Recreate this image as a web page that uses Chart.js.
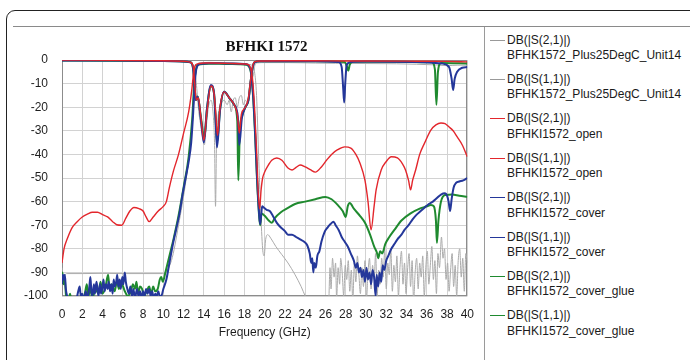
<!DOCTYPE html>
<html>
<head>
<meta charset="utf-8">
<script src="https://cdn.jsdelivr.net/npm/chart.js@4/dist/chart.umd.min.js"></script>
<style>
  html, body { margin: 0; padding: 0; background: #fff; }
  body { width: 690px; height: 360px; position: relative; overflow: hidden; font-family: "Liberation Sans", Arial, sans-serif; }
  #frame { position: absolute; left: 6px; top: 10px; width: 720px; height: 400px; border: 1.5px solid #222; border-radius: 9px; box-sizing: border-box; }
  #rule { position: absolute; left: 13px; right: 0; top: 26px; height: 1px; background: #8a8a8a; }
  #sep { position: absolute; left: 484px; top: 27px; bottom: 0; width: 1px; background: #9a9a9a; }
  #wrap { position: absolute; left: 0; top: 0; width: 485px; height: 360px; }
  #title { position: absolute; left: 62px; width: 409px; top: 38px; text-align: center; font: bold 15px "Liberation Serif", "Times New Roman", serif; color: #111; }
  .item { position: absolute; left: 490px; font-size: 12px; line-height: 15.5px; color: #1a1a1a; white-space: nowrap; }
  .item .sw { position: absolute; left: 0; top: 7px; width: 15px; }
  .item .tx { position: absolute; left: 17px; top: 0; }
</style>
</head>
<body>
<div id="frame"></div>
<div id="rule"></div>
<div id="sep"></div>
<div id="wrap"><canvas id="c" width="485" height="360"></canvas></div>
<div id="title">BFHKI 1572</div>
<div id="legend"></div>
<script>
// Axis ticks
const freqTicks = [0, 2, 4, 6, 8, 10, 12, 14, 16, 18, 20, 22, 24, 26, 28, 30, 32, 34, 36, 38, 40];
const dbTicks = [0, -10, -20, -30, -40, -50, -60, -70, -80, -90, -100];

// Series: [frequency GHz, dB]
const unit14S21 = [
  [0,-88],[0.15,-95],[0.3,-91],[0.5,-90.5],[2,-90.5],[4,-90.4],[6,-90.5],[8,-90.5],[9.9,-90.5],
  [10.8,-85],[11.5,-70],[12.2,-52],[12.7,-35],[13.0,-18],[13.2,-6],[13.4,-1.6],[13.7,-1.2],
  [14.5,-1.0],[15.5,-1.1],[16.5,-1.2],[17.5,-1.4],[18.3,-1.8],[18.8,-2.5],[19.0,-5],[19.2,-15],
  [19.4,-40],[19.6,-63],[19.8,-80],[19.95,-83],[20.1,-76],[20.3,-74],[20.6,-75.5],[21.1,-79],
  [21.7,-82.5],[22.3,-86],[23.0,-91],[23.6,-96],[24.0,-100],[24.5,-104],[26.3,-104],
  [26.45,-88],[26.55,-97],[26.7,-84],[26.85,-92],[27.0,-86],[27.1,-101],[27.25,-88],[27.4,-95],
  [27.5,-84],[27.65,-90],[27.8,-100],[27.95,-87],[28.1,-93],[28.25,-85],[28.4,-98],[28.55,-89],
  [28.7,-102],[28.85,-86],[29.0,-94],[29.15,-83],[29.3,-91],[29.45,-99],[29.6,-88],[29.75,-96],
  [29.9,-85],[30.05,-101],[30.2,-90],[30.35,-84],[30.5,-97],[30.65,-87],[30.8,-93],[30.95,-82],
  [31.1,-100],[31.25,-89],[31.4,-95],[31.55,-84],[31.7,-92],[31.85,-80],[32.0,-97],[32.15,-86],
  [32.3,-91],[32.45,-80],[32.6,-98],[32.75,-87],[32.9,-94],[33.05,-83],[33.2,-100],[33.35,-88],
  [33.5,-81],[33.65,-95],[33.8,-86],[33.95,-99],[34.1,-89],[34.25,-82],[34.4,-96],[34.55,-85],
  [34.7,-102],[34.85,-90],[35.0,-84],[35.15,-97],[35.3,-86],[35.45,-92],[35.6,-83],[35.75,-100],
  [35.9,-88],[36.05,-81],[36.2,-95],[36.35,-87],[36.5,-79],[36.65,-93],[36.8,-85],[36.95,-99],
  [37.1,-82],[37.25,-88],[37.45,-75],[37.6,-84],[37.75,-80],[37.9,-93],[38.05,-86],[38.2,-98],
  [38.35,-89],[38.5,-82],[38.65,-96],[38.8,-87],[38.95,-100],[39.1,-85],[39.25,-80],[39.4,-92],
  [39.55,-84],[39.7,-98],[39.85,-82],[40,-86]
];
const unit14S11 = [
  [0,-0.3],[5,-0.4],[10,-0.5],[12,-0.8],[12.8,-1.5],[13.1,-4],[13.3,-12],[13.5,-22],[13.8,-30],
  [14.05,-36],[14.2,-30],[14.45,-20],[14.7,-17],[14.9,-22],[15.05,-35],[15.15,-62],[15.25,-35],
  [15.4,-24],[15.7,-19],[16.0,-17],[16.3,-19],[16.5,-17],[16.7,-22],[16.9,-17],[17.1,-16],
  [17.3,-20],[17.5,-16],[17.7,-15],[17.9,-19],[18.1,-17],[18.3,-18],[18.5,-15],[18.7,-10],
  [18.9,-6],[19.05,-2],[19.3,-1.2],[20,-1.1],[22,-1.1],[25,-1.3],[27,-1.4],[30,-1.5],
  [33,-1.6],[35,-1.8],[37,-2.1],[38,-2.4],[39,-2.2],[40,-2.2]
];
const openS21 = [
  [0,-86],[0.2,-80],[0.5,-76],[1,-71],[1.5,-68.5],[2,-66.5],[2.5,-65.3],[3,-64.5],[3.5,-64.5],
  [4,-65.5],[4.5,-66.5],[5,-68.5],[5.4,-69.8],[5.9,-70],[6.3,-67],[6.7,-64],[7.1,-62.5],
  [7.6,-63],[8.0,-64],[8.3,-66.5],[8.6,-68.5],[9.0,-66.5],[9.5,-64],[10,-62],[10.3,-60],
  [10.6,-54],[11,-47],[11.5,-40],[12,-31],[12.5,-22],[12.8,-13],[13.0,-5],[13.2,-2],[13.5,-1.5],
  [14,-1.3],[15,-1.3],[16,-1.4],[17,-1.5],[18,-1.7],[18.4,-2],[18.6,-3.5],[18.8,-8],[19.0,-20],
  [19.2,-38],[19.35,-55],[19.5,-63],[19.65,-55],[19.8,-50],[20.0,-47.5],[20.3,-45],[20.7,-42.5],
  [21.2,-41.5],
  [21.7,-42.5],[22.3,-45.8],[22.7,-46.6],[23.1,-45.5],[23.5,-44.5],[24,-45.3],[24.5,-46.5],
  [25,-47.5],[25.6,-45.3],[26.1,-42.5],[26.6,-40],[27.2,-38],[27.9,-36.8],[28.5,-37.3],
  [29,-40],[29.4,-43.6],[29.9,-51],[30.2,-60],[30.5,-72],[30.8,-62],[31,-55],[31.5,-46.6],
  [32,-43],[32.5,-41],[33.1,-41.5],[33.6,-44],[33.9,-46.6],[34.2,-51],[34.4,-55],[34.6,-51],
  [34.9,-46.6],[35.3,-40],[35.8,-35],[36.4,-29.7],[36.9,-27.5],[37.4,-26.7],[37.8,-27],
  [38.2,-28.4],[38.6,-30],[39,-32.6],[39.5,-36],[40,-41]
];
const openS11 = [
  [0,0],[5,-0.1],[10,-0.3],[12,-0.5],[12.7,-1],[12.95,-3],[13.1,-10],[13.25,-17],[13.45,-16],
  [13.7,-24],[14.0,-34],[14.3,-22],[14.7,-11],[15.0,-14],[15.2,-24],[15.35,-32],[15.6,-20],
  [16,-13.5],[16.5,-16],[17,-19],[17.3,-23],[17.5,-31],[17.7,-23],[18.1,-20],[18.4,-16],
  [18.6,-9],[18.8,-3],[19,-0.8],[19.5,-0.4],[22,-0.3],[25,-0.3],[28,-0.4],[30,-0.4],
  [35,-0.5],[38,-0.6],[40,-0.8]
];
const coverS21 = [
  [0,-95],[0.08,-91],[0.18,-93],[0.28,-91],[0.38,-97],[0.5,-100],[0.65,-103],[0.9,-104],
  [1.2,-103],[1.45,-101],[1.6,-98],[1.75,-96],[1.85,-100],[2.0,-99],[2.15,-102],[2.35,-98],
  [2.5,-101],[2.7,-96],[2.8,-92],[2.9,-98],[3.0,-100],[3.15,-95],[3.25,-99],[3.4,-94],[3.5,-97],
  [3.6,-100],[3.75,-95],[3.85,-99],[4.0,-96],[4.1,-93],[4.2,-98],[4.35,-95],[4.5,-97],[4.6,-94],
  [4.75,-98],[4.85,-95],[5.0,-99],[5.1,-93],[5.2,-96],[5.35,-94],[5.45,-91],[5.55,-96],[5.7,-93],
  [5.8,-97],[5.95,-92],[6.05,-95],[6.2,-90],[6.3,-94],[6.45,-97],[6.6,-99],[6.75,-96],[6.9,-100],
  [7.05,-97],[7.2,-101],[7.4,-97],[7.55,-100],[7.7,-98],[7.85,-101],[8.0,-98],[8.15,-100],
  [8.3,-97],[8.45,-99],[8.6,-97],[8.75,-100],[8.9,-98],[9.05,-101],[9.2,-99],[9.35,-100],
  [9.5,-98],[9.65,-100],[9.8,-100],[10.0,-97],[10.3,-93],[10.6,-86],[10.9,-79],[11.25,-72],
  [11.6,-65],[11.9,-57],[12.2,-50],[12.5,-43],[12.75,-35],[12.95,-22],[13.1,-10],[13.25,-4],
  [13.45,-2],[13.8,-1.6],[14.5,-1.4],[15.5,-1.4],[16.5,-1.5],[17.5,-1.6],[18.2,-1.8],
  [18.45,-2.5],[18.65,-5],[18.85,-14],[19.05,-30],[19.25,-50],[19.45,-65],[19.55,-69.5],
  [19.65,-66],[19.75,-62],[19.9,-62.5],[20.2,-63.5],[20.5,-64],[20.8,-66],[21.2,-69],[21.6,-71],
  [22.0,-72.5],[22.3,-74],[22.7,-74],[23.1,-75],[23.5,-76],[23.9,-77],[24.2,-78.5],[24.45,-82],
  [24.6,-86],[24.7,-84],[24.8,-90],[24.9,-86],[25.05,-88],[25.2,-83],[25.4,-81],[25.6,-77],
  [25.9,-73],[26.2,-71],[26.5,-69.5],[26.8,-68.5],[27.0,-70],[27.3,-72],[27.6,-75],[27.9,-77],
  [28.2,-79],[28.5,-82],[28.8,-85],[29.0,-88],[29.15,-86],[29.3,-90],[29.45,-88],[29.6,-92],
  [29.75,-89],[29.9,-94],[30.05,-88],[30.2,-93],[30.35,-90],[30.5,-95],[30.65,-89],[30.8,-92],
  [30.95,-100],[31.05,-91],[31.2,-96],[31.35,-90],[31.5,-94],[31.65,-87],[31.8,-89],[32.0,-85],
  [32.2,-83],[32.5,-80],[32.8,-78],[33.1,-76],[33.5,-74],[33.8,-72],[34.2,-70],[34.6,-67.5],
  [35.0,-65.5],[35.4,-64],[35.8,-62.5],[36.2,-61],[36.6,-60],[37.0,-58.5],[37.4,-57],
  [37.8,-56.5],[38.0,-57.5],[38.15,-60],[38.3,-64],[38.45,-59],[38.65,-54],[38.9,-52],
  [39.2,-51.5],[39.6,-51],[40,-50]
];
const coverS11 = [
  [0,-0.2],[5,-0.2],[10,-0.4],[12,-0.6],[12.7,-1],[12.95,-4],[13.1,-12],[13.2,-17],[13.4,-15.6],
  [13.7,-25],[14.0,-35],[14.3,-21],[14.7,-10.6],[15.0,-14],[15.2,-29.7],[15.3,-37],[15.6,-21],
  [16,-13.5],[16.5,-16],[17,-19],[17.35,-24],[17.5,-36],[17.75,-24.6],[18.1,-20],[18.4,-17],
  [18.6,-9.7],[18.8,-3.5],[19,-1],[19.5,-0.5],[25,-0.5],[27.3,-0.8],[27.6,-3],[27.75,-12],
  [27.85,-18],[27.95,-10],[28.1,-2],[28.5,-0.8],[30,-0.6],[35,-0.8],[37.5,-1.5],[38.2,-3],
  [38.45,-8],[38.6,-12.7],[38.75,-8],[39,-5],[39.5,-3.3],[40,-3]
];
const glueS21 = [
  [0,-93],[0.05,-90],[0.15,-95],[0.25,-92],[0.4,-100],[0.6,-102],[0.8,-99],[0.95,-103],
  [1.3,-104],[1.7,-101],[2.0,-103],[2.3,-98],[2.45,-95],[2.6,-100],[2.8,-97],[3.0,-101],
  [3.3,-97],[3.6,-99],[3.8,-94],[4.0,-99],[4.3,-96],[4.55,-91],[4.7,-97],[4.9,-95],[5.2,-98],
  [5.45,-93],[5.6,-97],[5.9,-95],[6.2,-98],[6.5,-100],[6.8,-98],[7.0,-95],[7.2,-97],[7.35,-94],
  [7.5,-99],[7.7,-96],[7.9,-97],[8.1,-100],[8.35,-98],[8.6,-96],[8.8,-99],[9.0,-96],[9.2,-98],
  [9.45,-97],[9.65,-93],[9.8,-92],[9.95,-94],[10.2,-90],[10.6,-83],[11.0,-76],[11.5,-66],
  [12.0,-54],[12.5,-41],[12.85,-25],[13.05,-10],[13.25,-3.5],[13.5,-1.9],[14.5,-1.6],
  [15.5,-1.6],[16.5,-1.7],[17.5,-1.8],[18.2,-2],[18.45,-2.8],[18.65,-5.5],[18.85,-15],
  [19.05,-31],[19.25,-51],[19.45,-66],[19.55,-70],[19.7,-65],[20.0,-66],[20.4,-68],[20.7,-69],
  [21.0,-67],[21.6,-64.5],[22.3,-62.7],[23.0,-61],[24.0,-60],[25.0,-59],[26.0,-58],[26.6,-59],
  [27.2,-61.4],[27.7,-64],[28.0,-66.5],[28.2,-62],[28.4,-60.6],[28.8,-63],[29.4,-66],
  [29.9,-69],[30.4,-74],[30.8,-79],[31.1,-82],[31.2,-84],[31.4,-81],[31.6,-82],[31.9,-78],
  [32.3,-75],[32.8,-72],[33.5,-68],[34.4,-65],[35.3,-63],[36.0,-62],[36.4,-61.4],[36.7,-62],
  [36.9,-68],[37.0,-77.5],[37.15,-68],[37.4,-60],[37.8,-57.2],[38.5,-57],[39.2,-57.5],[40,-58]
];
const glueS11 = [
  [0,-0.2],[10,-0.4],[12.7,-1],[12.95,-4],[13.1,-12],[13.2,-17],[13.4,-15.5],[13.7,-24],
  [14.05,-33],[14.3,-21],[14.7,-11],[15.0,-14],[15.2,-28],[15.3,-35],[15.6,-21],[16,-13.5],
  [16.5,-16],[17,-19],[17.3,-26],[17.4,-51],[17.55,-30],[17.75,-24],[18.1,-20],[18.4,-17],
  [18.6,-9.5],[18.8,-3.5],[19,-1],[19.5,-0.5],[25,-0.5],[27.9,-0.8],[28.1,-2.5],[28.25,-4.5],
  [28.4,-2],[28.7,-0.7],[33,-0.7],[36.5,-1],[36.8,-4],[36.95,-19],[37.1,-5],[37.4,-1.3],[40,-1.5]
];

const seriesNames = [
  ['DB(|S(2,1)|)', 'BFHK1572_Plus25DegC_Unit14'],
  ['DB(|S(1,1)|)', 'BFHK1572_Plus25DegC_Unit14'],
  ['DB(|S(2,1)|)', 'BFHKI1572_open'],
  ['DB(|S(1,1)|)', 'BFHKI1572_open'],
  ['DB(|S(2,1)|)', 'BFHKI1572_cover'],
  ['DB(|S(1,1)|)', 'BFHKI1572_cover'],
  ['DB(|S(2,1)|)', 'BFHKI1572_cover_glue'],
  ['DB(|S(1,1)|)', 'BFHKI1572_cover_glue']
];

const GRAY = '#ababab', RED = '#e3262c', BLUE = '#24379a', GREEN = '#1f8a2f';
const styles = [
  { color: GRAY, width: 1, order: 4 },
  { color: GRAY, width: 1, order: 4 },
  { color: RED, width: 1.4, order: 0 },
  { color: RED, width: 1.4, order: 0 },
  { color: BLUE, width: 2, order: 1 },
  { color: BLUE, width: 2, order: 1 },
  { color: GREEN, width: 2, order: 2 },
  { color: GREEN, width: 2, order: 2 }
];
const seriesData = [unit14S21, unit14S11, openS21, openS11, coverS21, coverS11, glueS21, glueS11];

const datasets = seriesData.map((pts, i) => ({
  label: seriesNames[i].join(' '),
  data: pts.map(p => ({ x: p[0], y: p[1] })),
  borderColor: styles[i].color,
  borderWidth: styles[i].width,
  order: styles[i].order,
  pointRadius: 0,
  fill: false,
  cubicInterpolationMode: 'monotone'
}));

// Legend panel on the right
const legend = document.getElementById('legend');
seriesNames.forEach((n, i) => {
  const el = document.createElement('div');
  el.className = 'item';
  el.style.top = (32.5 + i * 39.4) + 'px';
  const sw = document.createElement('div');
  sw.className = 'sw';
  sw.style.borderTop = (styles[i].width > 1 ? 1.5 : 1) + 'px solid ' + (styles[i].color === GRAY ? '#999' : styles[i].color);
  const tx = document.createElement('div');
  tx.className = 'tx';
  tx.innerHTML = n[0] + '<br>' + n[1];
  el.appendChild(sw); el.appendChild(tx);
  legend.appendChild(el);
});

// Darker frame around the plotting area
const plotFrame = {
  id: 'plotFrame',
  beforeDatasetsDraw(chart) {
    const { ctx, chartArea: a } = chart;
    ctx.save();
    ctx.strokeStyle = '#8c8c8c';
    ctx.lineWidth = 1;
    ctx.strokeRect(Math.round(a.left) + 0.5, Math.round(a.top) + 0.5,
                   Math.round(a.right - a.left) - 1, Math.round(a.bottom - a.top) - 1);
    ctx.restore();
  }
};

const tickFont = { family: '"Liberation Sans", Arial, sans-serif', size: 12 };

new Chart(document.getElementById('c'), {
  type: 'line',
  data: { datasets },
  options: {
    responsive: false,
    animation: false,
    events: [],
    layout: { padding: { left: 0, right: 11.5, top: 60, bottom: 14 } },
    plugins: { legend: { display: false }, tooltip: { enabled: false }, title: { display: false } },
    scales: {
      x: {
        type: 'linear',
        min: 0, max: 40,
        afterBuildTicks: s => { s.ticks = freqTicks.map(v => ({ value: v })); },
        afterFit: s => { s.height = 50; },
        grid: { color: '#d2d2d2', drawTicks: false },
        border: { display: false },
        ticks: { font: tickFont, color: '#1e1e1e', padding: 11, maxRotation: 0, autoSkip: false },
        title: { display: true, text: 'Frequency (GHz)', font: tickFont, color: '#1e1e1e', padding: { top: 0, bottom: 6 } }
      },
      y: {
        type: 'linear',
        min: -100, max: 0,
        afterBuildTicks: s => { s.ticks = dbTicks.map(v => ({ value: v })); },
        afterFit: s => { s.width = 62; },
        grid: { color: '#d2d2d2', drawTicks: false },
        border: { display: false },
        ticks: { font: tickFont, color: '#1e1e1e', padding: 14 }
      }
    }
  },
  plugins: [plotFrame]
});
</script>
</body>
</html>
